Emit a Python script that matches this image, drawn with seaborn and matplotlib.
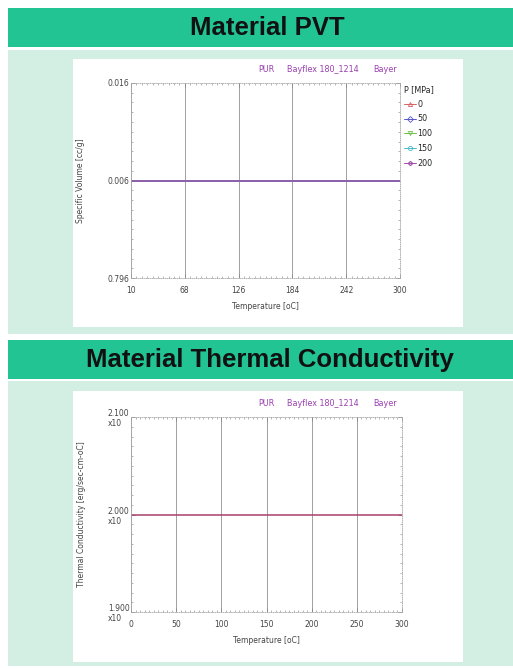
import matplotlib
matplotlib.use("Agg")
import matplotlib.pyplot as plt
from matplotlib.patches import Rectangle
from matplotlib.lines import Line2D
from matplotlib.ticker import AutoMinorLocator
import seaborn as sns
import pandas as pd

# ---------------- data ----------------
pvt_title = "Material PVT"
cond_title = "Material Thermal Conductivity"
header_parts = ["PUR", "Bayflex 180_1214", "Bayer"]

pvt_temperature = [10, 68, 126, 184, 242, 300]
pvt_pressures = [0, 50, 100, 150, 200]
pvt_volume_0 = [0.006, 0.006, 0.006, 0.006, 0.006, 0.006]
pvt_volume_50 = [0.006, 0.006, 0.006, 0.006, 0.006, 0.006]
pvt_volume_100 = [0.006, 0.006, 0.006, 0.006, 0.006, 0.006]
pvt_volume_150 = [0.006, 0.006, 0.006, 0.006, 0.006, 0.006]
pvt_volume_200 = [0.006, 0.006, 0.006, 0.006, 0.006, 0.006]
pvt_yticks = [-0.004, 0.006, 0.016]
pvt_ytick_labels = ["0.796", "0.006", "0.016"]
pvt_xticks = [10, 68, 126, 184, 242, 300]

cond_temperature = [0, 50, 100, 150, 200, 250, 300]
cond_values = [2.000, 2.000, 2.000, 2.000, 2.000, 2.000, 2.000]
cond_yticks = [1.900, 2.000, 2.100]
cond_ytick_labels = ["1.900\nx10", "2.000\nx10", "2.100\nx10"]
cond_xticks = [0, 50, 100, 150, 200, 250, 300]

# ---------------- style ----------------
sns.set_theme(style="white")
plt.rcParams["font.family"] = ["DejaVu Sans"]

W, H = 513, 669
fig = plt.figure(figsize=(W / 100, H / 100), dpi=100)
fig.patch.set_facecolor("white")

def px_rect(x0, y0, x1, y1, color, z=-10):
    fig.patches.append(Rectangle((x0 / W, 1 - y1 / H), (x1 - x0) / W, (y1 - y0) / H,
                                 transform=fig.transFigure, facecolor=color,
                                 edgecolor="none", zorder=z))

banner = "#22c494"
panel = "#d3eee3"
# panels
px_rect(8, 50, 513, 334, panel)
px_rect(8, 381, 513, 666, panel)
# banners
px_rect(8, 8, 513, 47, banner)
px_rect(8, 340, 513, 379, banner)
# white chart boxes
px_rect(73, 59, 463, 327, "white", z=-9)
px_rect(73, 391, 463, 662, "white", z=-9)

fig.text(267 / W, 1 - 28 / H, pvt_title, ha="center", va="center",
         fontsize=18.5, fontweight="bold", family="Liberation Sans", color="#111111")
fig.text(270 / W, 1 - 360 / H, cond_title, ha="center", va="center",
         fontsize=18.5, fontweight="bold", family="Liberation Sans", color="#111111")

purple = "#9a3fb0"
def header(y):
    xs = [258, 287, 373]
    for x, t in zip(xs, header_parts):
        fig.text(x / W, 1 - y / H, t, ha="left", va="center", fontsize=5.8, color=purple)

header(69)
header(403)

def style_axes(ax, xticks, xlim, yticks, ylabels, ylim, xlabel, ylabel, ylabel_x):
    ax.set_xlim(*xlim)
    ax.set_ylim(*ylim)
    ax.set_xticks(xticks)
    ax.set_xticklabels([str(v) for v in xticks], fontsize=5.5, color="#444444")
    ax.set_yticks(yticks)
    ax.set_yticklabels(ylabels, fontsize=5.5, color="#444444", multialignment="left")
    ax.xaxis.set_minor_locator(AutoMinorLocator(10))
    ax.yaxis.set_minor_locator(AutoMinorLocator(10))
    ax.tick_params(axis="x", which="major", pad=6)
    ax.tick_params(axis="y", which="major", pad=1)
    ax.tick_params(axis="both", which="major", direction="in", length=3, width=0.6,
                   color="#888888", top=True, right=True, bottom=True, left=True)
    ax.tick_params(axis="both", which="minor", direction="in", length=1.5, width=0.5,
                   color="#999999", top=True, right=True, bottom=True, left=True)
    for s in ax.spines.values():
        s.set_color("#aaaaaa")
        s.set_linewidth(0.6)
        s.set_linestyle((0, (1, 1.5)))
    ax.grid(True, axis="x", color="#a0a0a0", linewidth=0.7)
    ax.grid(False, axis="y")
    ax.set_xlabel(xlabel, fontsize=5.5, color="#444444", labelpad=5)
    ax.set_ylabel(ylabel, fontsize=5.5, color="#444444")
    ax.yaxis.set_label_coords(ylabel_x, 0.5)
    ax.set_facecolor("white")
    ax.set_zorder(5)

# ---------------- PVT chart ----------------
ax1 = fig.add_axes([131 / W, 1 - 278 / H, 269 / W, 195 / H])
series = [pvt_volume_0, pvt_volume_50, pvt_volume_100, pvt_volume_150, pvt_volume_200]
rows = []
for p, vals in zip(pvt_pressures, series):
    for t, v in zip(pvt_temperature, vals):
        rows.append({"T": t, "V": v, "P": p})
df1 = pd.DataFrame(rows)
colors = ["#d86060", "#5858c8", "#6cc048", "#48b8cc", "#a04aa8"]
markers = ["^", "D", "v", "o", "P"]
pal = dict(zip(pvt_pressures, colors))
sns.lineplot(data=df1, x="T", y="V", hue="P", palette=pal, ax=ax1, legend=False,
             linewidth=1.1)
style_axes(ax1, pvt_xticks, (10, 300), pvt_yticks, pvt_ytick_labels, (-0.004, 0.016),
           "Temperature [oC]", "Specific Volume [cc/g]", -46 / 269)
handles = [Line2D([0], [0], color=c, marker=m, markersize=3, markerfacecolor="none",
                  markeredgewidth=0.6, linewidth=0.7) for c, m in zip(colors, markers)]
leg = ax1.legend(handles, [str(p) for p in pvt_pressures], title="P [MPa]",
                 loc="upper left", bbox_to_anchor=(0.995, 1.02), frameon=False,
                 fontsize=5.8, title_fontsize=5.8, handlelength=1.4, handletextpad=0.2,
                 labelspacing=0.72, borderaxespad=0.3)
leg._legend_box.align = "left"

# ---------------- conductivity chart ----------------
ax2 = fig.add_axes([131 / W, 1 - 612 / H, 271 / W, 195 / H])
df2 = pd.DataFrame({"T": cond_temperature, "K": cond_values})
sns.lineplot(data=df2, x="T", y="K", ax=ax2, color="#a8406a", linewidth=1.1)
style_axes(ax2, cond_xticks, (0, 300), cond_yticks, cond_ytick_labels, (1.900, 2.100),
           "Temperature [oC]", "Thermal Conductivity [erg/sec-cm-oC]", -45 / 271)

fig.savefig("out.png", dpi=100, facecolor=fig.get_facecolor())
